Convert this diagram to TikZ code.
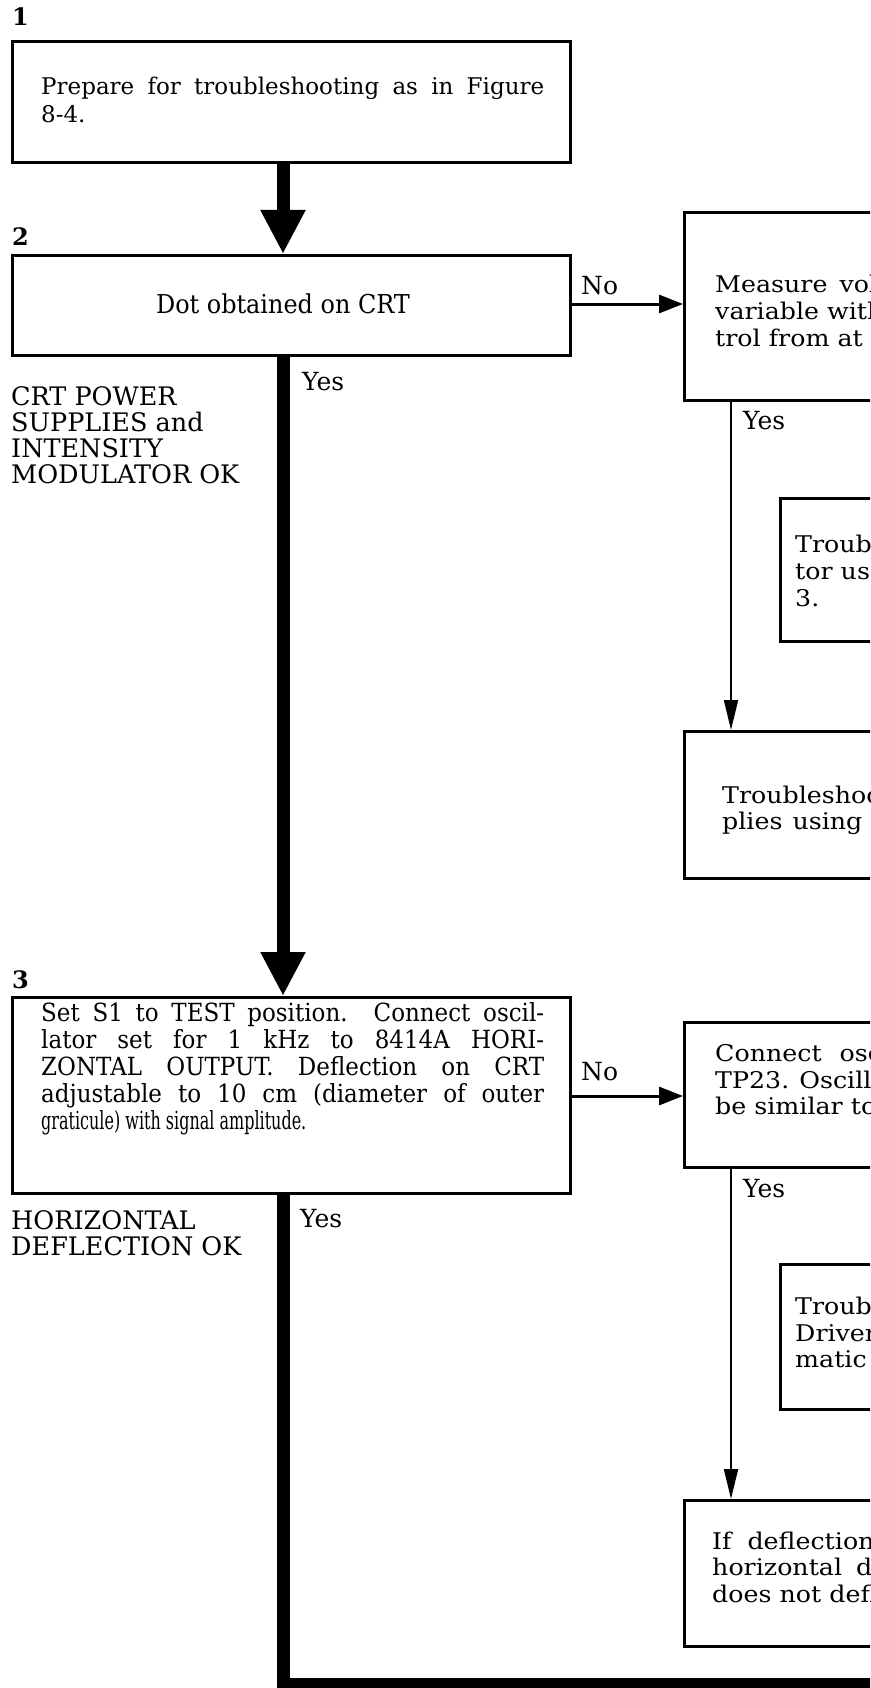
\documentclass[tikz,border=0pt]{standalone}
\usepackage{fontspec}
\setmainfont{DejaVu Serif}
\newfontfamily\wideserif[FakeStretch=1.1]{DejaVu Serif}
\newfontfamily\condserif[FakeStretch=0.92]{DejaVu Serif}
\newfontfamily\dotserif[FakeStretch=0.92]{DejaVu Serif}
\newfontfamily\narrowserif[FakeStretch=0.64]{DejaVu Serif}
\usetikzlibrary{arrows.meta}
\begin{document}
\begin{tikzpicture}[x=1pt,y=-1pt,
  frame/.style={draw, line width=2.6pt, inner sep=0pt, anchor=north west},
  txt/.style={anchor=base west, inner sep=0pt, font=\fontsize{23}{27}\selectfont},
  rtxt/.style={anchor=base west, inner sep=0pt, font=\fontsize{23}{27}\wideserif},
  ctxt/.style={anchor=base west, inner sep=0pt, font=\fontsize{25}{27}\condserif},
  side/.style={anchor=base west, inner sep=0pt, font=\fontsize{25.5}{27}\selectfont},
  lbl/.style={anchor=base west, inner sep=0pt, font=\fontsize{25}{27}\selectfont},
  num/.style={anchor=base west, inner sep=0pt, font=\fontsize{24}{26}\selectfont\bfseries},
  trunk/.style={line width=13pt, -{Triangle[width=42pt,length=44pt]}},
  trunkline/.style={line width=13pt},
  noarrow/.style={line width=3pt, -{Triangle[width=18pt,length=24pt]}},
  yesarrow/.style={line width=2pt, -{Triangle[width=14pt,length=30pt]}}]
\clip (0,0) rectangle (870,1688);
\coordinate (trunk) at (283,0);
\coordinate (yx) at (731,0);
\coordinate (bottom) at (0,1695);
\coordinate (corner) at (289,1683);
\coordinate (barend) at (880,1683);
% left boxes
\node[frame, minimum width=558pt, minimum height=121pt] (b1) at (11,40) {};
\node[frame, minimum width=558pt, minimum height=100pt] (b2) at (11,254) {};
\node[frame, minimum width=558pt, minimum height=196pt] (b3) at (11,996) {};
% right boxes
\node[frame, minimum width=250pt, minimum height=188pt] (r1) at (683,211) {};
\node[frame, minimum width=150pt, minimum height=143pt] (r2) at (779,497) {};
\node[frame, minimum width=250pt, minimum height=147pt] (r3) at (683,730) {};
\node[frame, minimum width=250pt, minimum height=145pt] (r4) at (683,1021) {};
\node[frame, minimum width=150pt, minimum height=145pt] (r5) at (779,1263) {};
\node[frame, minimum width=250pt, minimum height=146pt] (r6) at (683,1499) {};
% numbers
\node[num] (n1) at (12,26) {1};
\node[num] (n2) at (12,246) {2};
\node[num] (n3) at (12,988) {3};
% texts
\node[txt] (t1a) at (41,95) {\makebox[503pt][s]{Prepare for troubleshooting as in Figure}};
\node[txt] (t1b) at (41,123) {8-4.};
\node[anchor=base, inner sep=0pt, font=\fontsize{26}{27}\dotserif] (t2) at (283,313) {Dot obtained on CRT};
\node[ctxt] (t3a) at (41,1021) {\makebox[503pt][s]{Set S1 to TEST position. Connect oscil-}};
\node[ctxt] (t3b) at (41,1048) {\makebox[503pt][s]{lator set for 1 kHz to 8414A HORI-}};
\node[ctxt] (t3c) at (41,1075) {\makebox[503pt][s]{ZONTAL OUTPUT. Deflection on CRT}};
\node[ctxt] (t3d) at (41,1102) {\makebox[503pt][s]{adjustable to 10 cm (diameter of outer}};
\node[anchor=base west, inner sep=0pt, font=\fontsize{25}{27}\narrowserif] (t3e) at (41,1129) {graticule) with signal amplitude.};
\node[rtxt] (r1a) at (715,292) {Measure\hspace{12pt}vol};
\node[rtxt] (r1b) at (715,319) {variable\hspace{8pt}with};
\node[rtxt] (r1c) at (715,346) {trol from at};
\node[rtxt] (r2a) at (795,552) {Troub};
\node[rtxt] (r2b) at (795,579) {tor us};
\node[rtxt] (r2c) at (795,606) {3.};
\node[rtxt] (r3a) at (722,803) {Troubleshoo};
\node[rtxt] (r3b) at (722,829) {plies\hspace{10pt}using\hspace{10pt}i};
\node[rtxt] (r4a) at (715,1061) {Connect\hspace{18pt}osc};
\node[rtxt] (r4b) at (715,1088) {TP23.\hspace{10pt}Oscill};
\node[rtxt] (r4c) at (715,1114) {be similar to};
\node[rtxt] (r5a) at (795,1314) {Troub};
\node[rtxt] (r5b) at (795,1341) {Driver};
\node[rtxt] (r5c) at (795,1367) {matic};
\node[rtxt] (r6a) at (712,1549) {If\hspace{16pt}deflection};
\node[rtxt] (r6b) at (712,1575) {horizontal\hspace{14pt}d};
\node[rtxt] (r6c) at (712,1602) {does not defl};
% side labels
\node[side] (s1) at (11,405) {CRT POWER};
\node[side] (s2) at (11,431) {SUPPLIES and};
\node[side] (s3) at (11,457) {INTENSITY};
\node[side] (s4) at (11,483) {MODULATOR OK};
\node[side] (s5) at (11,1229) {HORIZONTAL};
\node[side] (s6) at (11,1255) {DEFLECTION OK};
\node[lbl] (y1) at (302,390) {Yes};
\node[lbl] (y2) at (300,1227) {Yes};
\node[lbl] (y3) at (743,429) {Yes};
\node[lbl] (y4) at (743,1197) {Yes};
\node[lbl] (no1) at (581,294) {No};
\node[lbl] (no2) at (581,1080) {No};
% connectors
\draw[trunk] (b1.south -| trunk) -- (b2.north -| trunk);
\draw[trunk] (b2.south -| trunk) -- (b3.north -| trunk);
\draw[trunkline] (b3.south -| trunk) -- (trunk |- bottom);
\draw[line width=10pt] (corner) -- (barend);
\draw[noarrow] (b2.east |- 0,304) -- (r1.west |- 0,304);
\draw[noarrow] (b3.east |- 0,1096) -- (r4.west |- 0,1096);
\draw[yesarrow] (r1.south -| yx) -- (r3.north -| yx);
\draw[yesarrow] (r4.south -| yx) -- (r6.north -| yx);
\end{tikzpicture}
\end{document}
